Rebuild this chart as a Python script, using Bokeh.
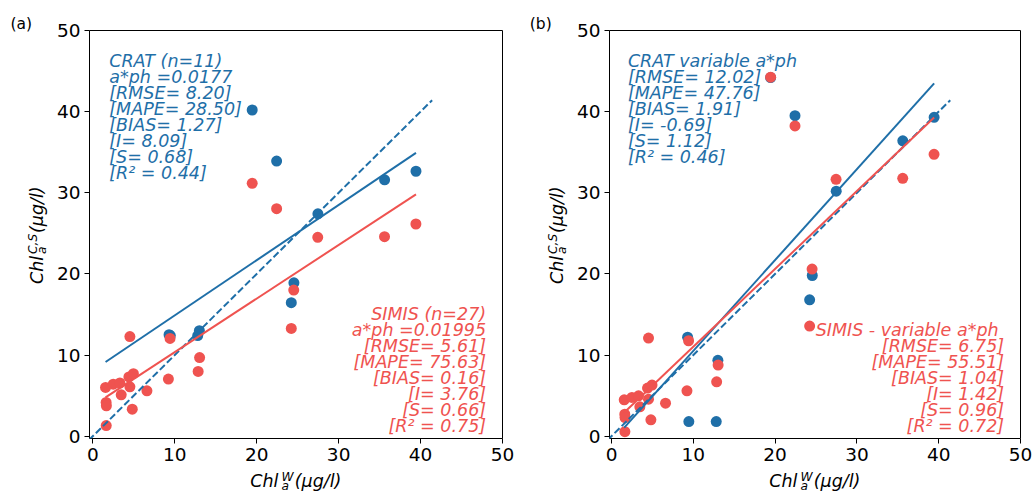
import numpy as np
from bokeh.plotting import figure
from bokeh.models import Range1d, FixedTicker, Label, Div
from bokeh.layouts import row, column
from bokeh.embed import file_html
from bokeh.resources import INLINE

# ---- data ----
# in-situ Chl-a (x) for the SIMIS matchups (shared by both panels)
x_simis = [1.55, 1.62, 1.65, 1.63, 2.49, 3.30, 3.46, 4.40, 4.52, 4.52, 4.81, 4.95,
           6.60, 9.22, 9.42, 12.85, 13.03, 19.45, 22.43, 24.22, 24.52, 27.45, 35.60, 39.43]
simis_a = [6.00, 4.15, 3.74, 1.30, 6.40, 6.55, 5.10, 7.30, 12.28, 6.08, 3.33, 7.70,
           5.59, 7.03, 12.05, 7.98, 9.68, 31.17, 28.04, 13.28, 18.00, 24.51, 24.59, 26.15]
simis_b = [4.48, 2.71, 2.30, 0.55, 4.77, 4.97, 3.61, 5.92, 12.09, 4.56, 2.01, 6.29,
           4.07, 5.59, 11.76, 6.70, 8.76, 44.24, 38.24, 13.57, 20.60, 31.66, 31.78, 34.74]
# in-situ Chl-a (x) for the CRAT matchups
x_crat = [9.30, 9.45, 12.80, 13.00, 19.45, 22.43, 24.22, 24.54, 27.47, 35.61, 39.44]
crat_a = [12.50, 12.40, 12.40, 13.00, 40.20, 33.90, 16.45, 18.90, 27.40, 31.60, 32.65]
crat_b = [12.20, 1.80, 1.80, 9.35, 44.20, 39.50, 16.80, 19.80, 30.20, 36.40, 39.30]

# regression (intercept, slope) as printed in the panels
fit_crat_a = (8.09, 0.68)
fit_simis_a = (3.76, 0.66)
fit_crat_b = (-0.69, 1.12)
fit_simis_b = (1.42, 0.96)

crat_text_a = ["CRAT (n=11)", "a*ph =0.0177", "[RMSE= 8.20]", "[MAPE= 28.50]",
               "[BIAS= 1.27]", "[I= 8.09]", "[S= 0.68]", "[R\u00b2 = 0.44]"]
simis_text_a = ["SIMIS (n=27)", "a*ph =0.01995", "[RMSE= 5.61]", "[MAPE= 75.63]",
                "[BIAS= 0.16]", "[I= 3.76]", "[S= 0.66]", "[R\u00b2 = 0.75]"]
crat_text_b = ["CRAT variable a*ph", "[RMSE= 12.02]", "[MAPE= 47.76]", "[BIAS= 1.91]",
               "[I= -0.69]", "[S= 1.12]", "[R\u00b2 = 0.46]"]
simis_text_b = ["SIMIS - variable a*ph\u00a0", "[RMSE= 6.75]", "[MAPE= 55.51]", "[BIAS= 1.04]",
                "[I= 1.42]", "[S= 0.96]", "[R\u00b2 = 0.72]"]

ticks = [0, 10, 20, 30, 40, 50]
panel_tags = ["(a)", "(b)"]

BLUE = "#1f6fa8"
RED = "#ef5350"
FONT = "DejaVu Sans"
FIG_H = 469
TOTAL_H = 493
TXT = "17.5px"
LINE = 16.0


def lab(p, x, y, text, color, align, dy):
    p.add_layout(Label(x=x, y=y, text=text, y_offset=dy,
                       text_font=FONT, text_font_size=TXT, text_font_style="italic",
                       text_color=color, text_align=align, text_baseline="alphabetic"))


def make_panel(y_crat, y_simis, fc, fs, tcrat, tsimis, width, left, right, xstart):
    p = figure(width=width, height=FIG_H, output_backend="svg", toolbar_location=None,
               x_range=Range1d(xstart, 50), y_range=Range1d(-0.29, 50),
               min_border_left=left, min_border_right=right,
               min_border_top=30, min_border_bottom=FIG_H - 30 - 408)
    p.grid.visible = False
    p.background_fill_color = "white"
    p.border_fill_color = "white"
    p.outline_line_color = "black"
    p.outline_line_width = 1
    for ax in (p.xaxis, p.yaxis):
        ax.ticker = FixedTicker(ticks=ticks)
        ax.major_label_text_font = FONT
        ax.major_label_text_font_size = "18.5px"
        ax.major_label_text_color = "black"
        ax.major_tick_in = 0
        ax.major_tick_out = 5
        ax.major_tick_line_color = "black"
        ax.minor_tick_line_color = None
        ax.axis_line_color = None
        ax.major_label_standoff = 4

    p.scatter(x_crat, y_crat, size=11, fill_color=BLUE, line_color=None)
    p.scatter(x_simis, y_simis, size=11, fill_color=RED, line_color=None)

    xmin = min(x_simis + x_crat)
    xmax = max(x_simis + x_crat)
    one = [-0.5, 1.05 * xmax]
    p.line(one, one, line_dash="7 3", line_width=2, line_color=BLUE)
    xs = [xmin, xmax]
    p.line(xs, [fc[0] + fc[1] * v for v in xs], line_width=2, line_color=BLUE)
    p.line(xs, [fs[0] + fs[1] * v for v in xs], line_width=2, line_color=RED)

    for i, t in enumerate(tcrat):
        lab(p, 2.0, 46.3, t, BLUE, "left", -LINE * i)
    n = len(tsimis)
    for i, t in enumerate(tsimis):
        lab(p, 48.0, 1.2, t, RED, "right", LINE * (n - 1 - i))
    return p


def base_off(size, lh):
    # distance from top of a line box to the alphabetic baseline (DejaVu Sans metrics)
    return (lh / 2 + 0.346) * size


def span(left, top, text, size, lh=1.0, italic=True, rot=False):
    st = ("position:absolute;left:%.1fpx;top:%.1fpx;font-family:'DejaVu Sans';"
          "font-size:%.2fpx;line-height:%.3f;white-space:nowrap;color:black;margin:0;padding:0;"
          % (left, top, size, lh))
    if italic:
        st += "font-style:italic;"
    if rot:
        st += "transform:rotate(-90deg);transform-origin:0 0;"
    return '<span style="%s">%s</span>' % (st, text)


def box(w, h, spans):
    html = ('<div style="position:relative;width:%dpx;height:%dpx;overflow:hidden;'
            'margin:0;padding:0">%s</div>' % (w, h, "".join(spans)))
    return Div(text=html, width=w, height=h, margin=0)


BIG = 17.5
SMALL = 12.25
SUP = 5.5      # superscript raise (px)
SUB = 3.2      # subscript drop (px)
LH_S = (SUP + SUB) / SMALL   # stacked sup/sub: one line box per script
OB = base_off(BIG, 1.0)
OS = base_off(SMALL, LH_S)
UNIT = "(\u03bcg/l)"


def ylabel_div(w, tag, tag_left, base_x):
    # rotated Chl_a^{C,S}(ug/l); base_x = baseline position in the div
    s = [span(tag_left, 29.7 - base_off(15.5, 1.0), tag, 15.5, italic=False),
         span(base_x - OB, 284.3, "Chl", BIG, rot=True),
         span(base_x - SUP - OS, 254.0, "C,S<br>a", SMALL, LH_S, rot=True),
         span(base_x - OB, 232.8, UNIT, BIG, rot=True)]
    return box(w, TOTAL_H, s)


def xlabel_div(w, center):
    base = 487.5 - FIG_H
    s = [span(center - 45.3, base - OB, "Chl", BIG),
         span(center - 14.0, base - SUP - OS, "W<br>a", SMALL, LH_S),
         span(center - 0.8, base - OB, UNIT, BIG)]
    return box(w, TOTAL_H - FIG_H, s)


p1 = make_panel(crat_a, simis_a, fit_crat_a, fit_simis_a,
                crat_text_a, simis_text_a, 479, 39, 27, -0.41)
p2 = make_panel(crat_b, simis_b, fit_crat_b, fit_simis_b,
                crat_text_b, simis_text_b, 465, 39, 15, -0.25)

ya = ylabel_div(50, panel_tags[0], 10.5, 43.3)
yb = ylabel_div(41, panel_tags[1], 0.8, 34.3)
xa = xlabel_div(479, 39 + 413 / 2)
xb = xlabel_div(465, 39 + 411 / 2)

layout = row(ya, column(p1, xa, spacing=0), yb, column(p2, xb, spacing=0), spacing=0)
open("out.html", "w").write(file_html(layout, INLINE))
